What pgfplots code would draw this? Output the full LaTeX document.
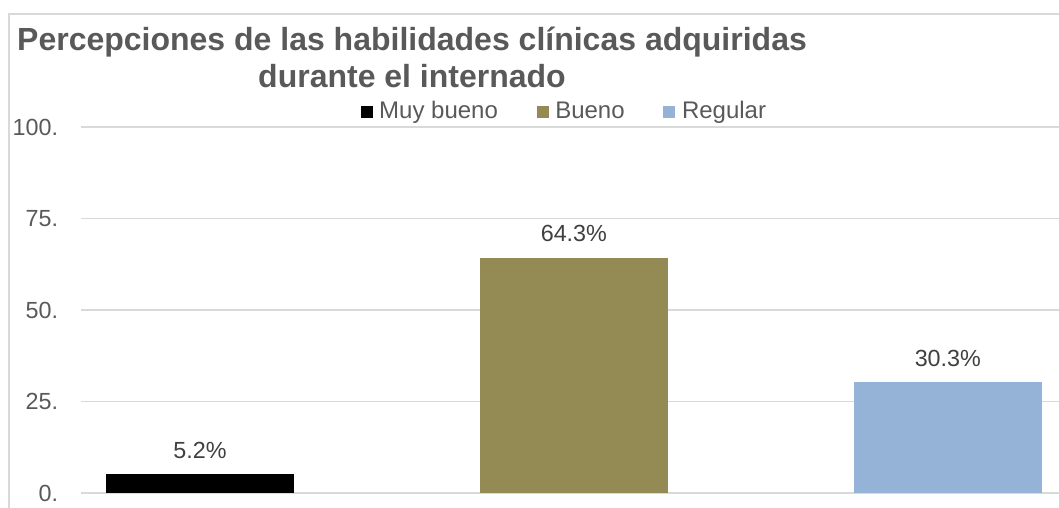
\documentclass[border=0pt]{standalone}
\usepackage{pgfplots}
\pgfplotsset{compat=1.18}
\usepackage{fontspec}
\setmainfont{Liberation Sans}
\definecolor{gridc}{HTML}{D9D9D9}
\definecolor{txt}{HTML}{595959}
\definecolor{lbl}{HTML}{404040}
\definecolor{olive}{HTML}{948A54}
\definecolor{lblue}{HTML}{95B3D7}
\begin{document}
\begin{tikzpicture}
\useasboundingbox (0pt,0pt) rectangle (794.25pt,380.25pt);
\draw[gridc, line width=1.1pt] (6.75pt,-10pt) -- (6.75pt,369.75pt) -- (810pt,369.75pt);
\node[anchor=base, font=\fontsize{24}{28}\selectfont\bfseries, text=txt, inner sep=0pt] at (309pt,342.5pt) {Percepciones de las habilidades clínicas adquiridas};
\node[anchor=base, font=\fontsize{24}{28}\selectfont\bfseries, text=txt, inner sep=0pt] at (309pt,314.5pt) {durante el internado};
\begin{axis}[
  at={(60.75pt,10.5pt)}, anchor=south west,
  scale only axis, width=734.25pt, height=274.5pt,
  xmin=-0.318, xmax=2.30, ymin=0, ymax=100,
  ybar, bar width=141pt, bar shift=0pt,
  legend image code/.code={\fill[#1] (0pt,-2.25pt) rectangle (9pt,6.75pt); \path (12pt,0pt);},
  axis line style={draw=none}, tick style={draw=none},
  xtick=\empty,
  ytick={0,25,50,75,100},
  yticklabels={0.,25.,50.,75.,100.},
  yticklabel style={font=\fontsize{17.5}{20}\selectfont, text=txt, inner sep=0pt, xshift=-17pt},
  ymajorgrids, grid style={gridc, line width=1.1pt},
  point meta=explicit symbolic,
  nodes near coords,
  every node near coord/.append style={font=\fontsize{17.5}{20}\selectfont, text=lbl, anchor=center, yshift=18pt},
  legend columns=3,
  legend style={at={(0.494,1.034)}, anchor=center, draw=none, fill=none,
    font=\fontsize{18}{20}\selectfont, text=txt,
    /tikz/every even column/.append style={column sep=27pt, text height=0.72em, text depth=0.21em}},
]
\addplot[fill=black, draw=none] coordinates {(0,5.2) [5.2\%]};
\addlegendentry{Muy bueno}
\addplot[fill=olive, draw=none] coordinates {(1,64.3) [64.3\%]};
\addlegendentry{Bueno}
\addplot[fill=lblue, draw=none] coordinates {(2,30.3) [30.3\%]};
\addlegendentry{Regular}
\end{axis}
\end{tikzpicture}
\end{document}
